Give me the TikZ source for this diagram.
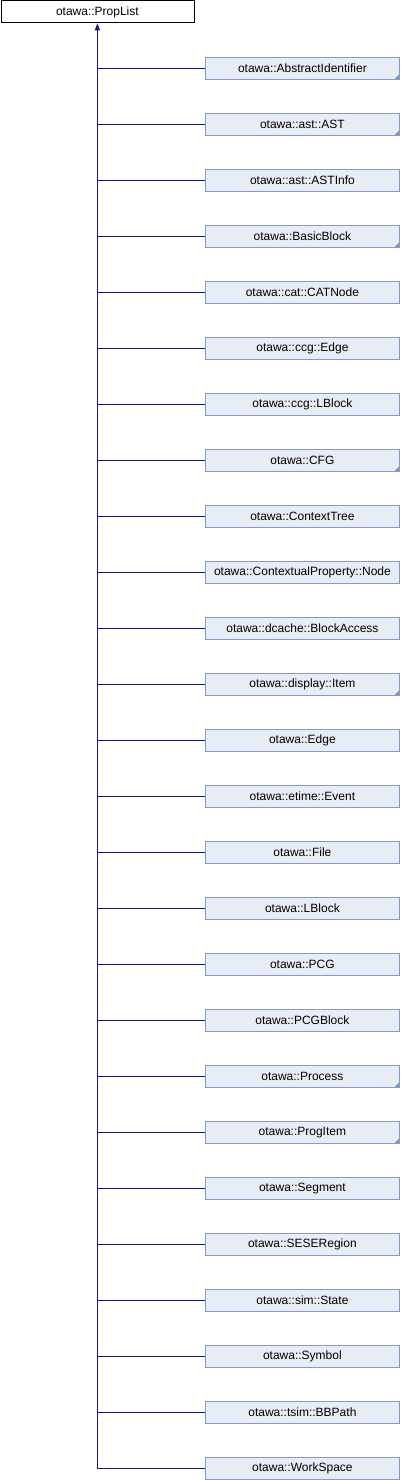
\documentclass[tikz,border=0pt]{standalone}
\usepackage{fontspec}
\setmainfont{Liberation Sans}
\usetikzlibrary{arrows.meta,calc}
\definecolor{edgeblue}{RGB}{25,25,130}
\definecolor{boxborder}{RGB}{132,154,200}
\definecolor{boxfill}{RGB}{232,236,244}
\tikzset{
  base/.style={draw=black, fill=white, line width=0.8pt, minimum width=193pt, minimum height=22pt, inner sep=0pt, font=\fontsize{12}{14}\selectfont, anchor=north west},
  child/.style={draw=boxborder, fill=boxfill, line width=0.8pt, minimum width=194pt, minimum height=22pt, inner sep=0pt, font=\fontsize{12}{14}\selectfont, anchor=north west},
  edge/.style={draw=edgeblue, line width=0.8pt},
  foldmark/.style={fill=boxborder, draw=none}
}
\begin{document}
\begin{tikzpicture}[x=1pt,y=-1pt]
\useasboundingbox (0,0) rectangle (400,1480);
\node[base] (top) at (0.5,0.5) {otawa::PropList};
\foreach \i/\name/\fold in {
 0/otawa::AbstractIdentifier/1,
 1/otawa::ast::AST/1,
 2/otawa::ast::ASTInfo/0,
 3/otawa::BasicBlock/1,
 4/otawa::cat::CATNode/0,
 5/otawa::ccg::Edge/0,
 6/otawa::ccg::LBlock/0,
 7/otawa::CFG/1,
 8/otawa::ContextTree/0,
 9/otawa::ContextualProperty::Node/0,
 10/otawa::dcache::BlockAccess/0,
 11/otawa::display::Item/1,
 12/otawa::Edge/0,
 13/otawa::etime::Event/0,
 14/otawa::File/0,
 15/otawa::LBlock/0,
 16/otawa::PCG/0,
 17/otawa::PCGBlock/0,
 18/otawa::Process/1,
 19/otawa::ProgItem/1,
 20/otawa::Segment/0,
 21/otawa::SESERegion/0,
 22/otawa::sim::State/0,
 23/otawa::Symbol/0,
 24/otawa::tsim::BBPath/0,
 25/otawa::WorkSpace/0}{
  \node[child] (c\i) at (205,{57+56*\i}) {\name};
  \ifnum\fold=1
    \fill[foldmark] ($(c\i.south east)+(-6,0)$) -- (c\i.south east) -- ($(c\i.south east)+(0,-6)$) -- cycle;
  \fi
  \draw[edge] (c\i.west) -- (top.south |- c\i.west);
}
\draw[edge, -{Triangle[width=5pt,length=7pt]}] (top.south |- c25.west) -- (top.south);
\end{tikzpicture}
\end{document}
